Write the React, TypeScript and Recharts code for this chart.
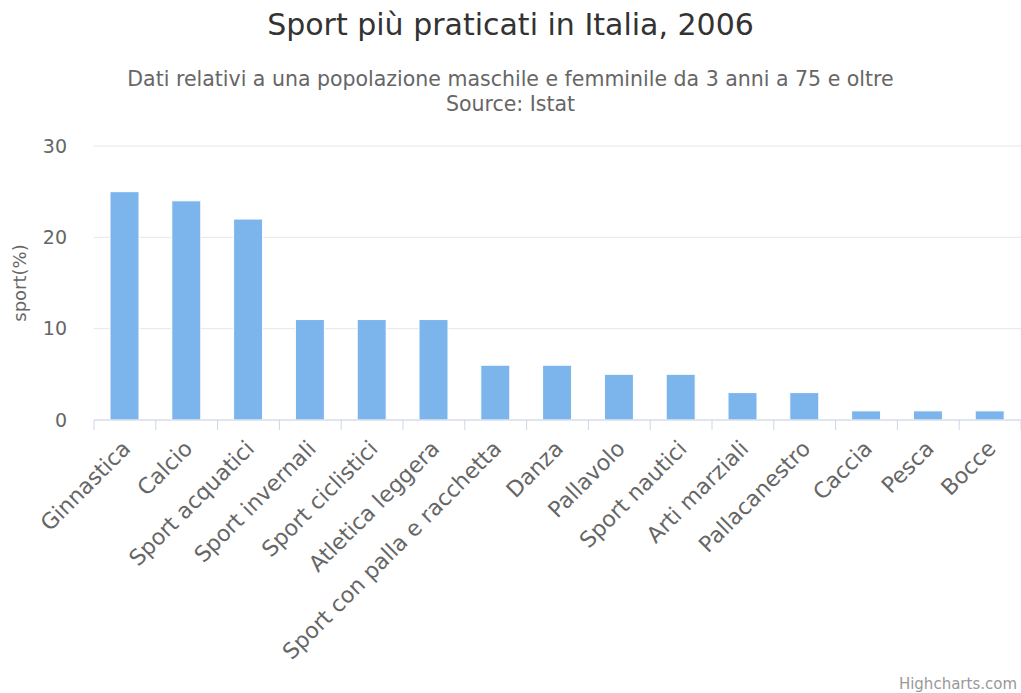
import React from 'react';
import { BarChart, Bar, XAxis, YAxis, CartesianGrid } from 'recharts';

// categorie e valori (percentuale di praticanti)
const categories = [
  'Ginnastica',
  'Calcio',
  'Sport acquatici',
  'Sport invernali',
  'Sport ciclistici',
  'Atletica leggera',
  'Sport con palla e racchetta',
  'Danza',
  'Pallavolo',
  'Sport nautici',
  'Arti marziali',
  'Pallacanestro',
  'Caccia',
  'Pesca',
  'Bocce',
];
const values = [25, 24, 22, 11, 11, 11, 6, 6, 5, 5, 3, 3, 1, 1, 1];
const yTicks = [0, 10, 20, 30];

const data = categories.map((name, i) => ({ name, sport: values[i] }));

const FONT = '"DejaVu Sans", "Lucida Grande", Arial, sans-serif';
const AXIS_COLOR = '#ccd6eb';

const CategoryTick = (props: any) => {
  const { x, y, payload, index } = props;
  const half = payload.offset ?? 0;
  const isLast = index === categories.length - 1;
  const tx = x + 7;
  const ty = y + 30;
  return (
    <g>
      <line x1={x - half} y1={y} x2={x - half} y2={y + 10} stroke={AXIS_COLOR} strokeWidth={1} />
      {isLast && <line x1={x + half} y1={y} x2={x + half} y2={y + 10} stroke={AXIS_COLOR} strokeWidth={1} />}
      <text
        x={tx}
        y={ty}
        textAnchor="end"
        fill="#666666"
        fontSize={22}
        fontFamily={FONT}
        transform={`rotate(-45, ${tx}, ${ty})`}
      >
        {payload.value}
      </text>
    </g>
  );
};

const App: React.FC = () => {
  return (
    <div style={{ position: 'absolute', left: 0, top: 0, width: 1021, height: 693, overflow: 'hidden', background: '#fff', fontFamily: FONT }}>
      <div style={{ position: 'absolute', top: 7, left: 0, width: 1021, textAlign: 'center', fontSize: 30, color: '#333333' }}>
        Sport più praticati in Italia, 2006
      </div>
      <div style={{ position: 'absolute', top: 67, left: 0, width: 1021, textAlign: 'center', fontSize: 20.5, lineHeight: '25px', color: '#666666' }}>
        Dati relativi a una popolazione maschile e femminile da 3 anni a 75 e oltre
        <br />
        Source: Istat
      </div>
      <BarChart
        width={1021}
        height={693}
        data={data}
        margin={{ top: 146, right: 0, bottom: 0, left: 0 }}
        barCategoryGap={0}
      >
        <CartesianGrid vertical={false} stroke="#e6e6e6" />
        <XAxis
          dataKey="name"
          interval={0}
          height={273}
          tickSize={0}
          tickMargin={0}
          axisLine={{ stroke: AXIS_COLOR }}
          tickLine={false}
          tick={<CategoryTick />}
        />
        <YAxis
          width={94}
          domain={[0, 30]}
          ticks={yTicks}
          axisLine={false}
          tickLine={false}
          tickSize={0}
          tickMargin={27}
          tick={{ fill: '#666666', fontSize: 19, fontFamily: FONT }}
          label={{
            value: 'sport(%)',
            angle: -90,
            position: 'insideLeft',
            offset: 20,
            style: { textAnchor: 'middle', fill: '#666666', fontSize: 18, fontFamily: FONT },
          }}
        />
        <Bar dataKey="sport" fill="#7cb5ec" stroke="#ffffff" strokeWidth={1} barSize={29} isAnimationActive={false} />
      </BarChart>
      <div style={{ position: 'absolute', right: 4, top: 675, fontSize: 15, color: '#999999', whiteSpace: 'nowrap' }}>
        Highcharts.com
      </div>
    </div>
  );
};

export default App;
